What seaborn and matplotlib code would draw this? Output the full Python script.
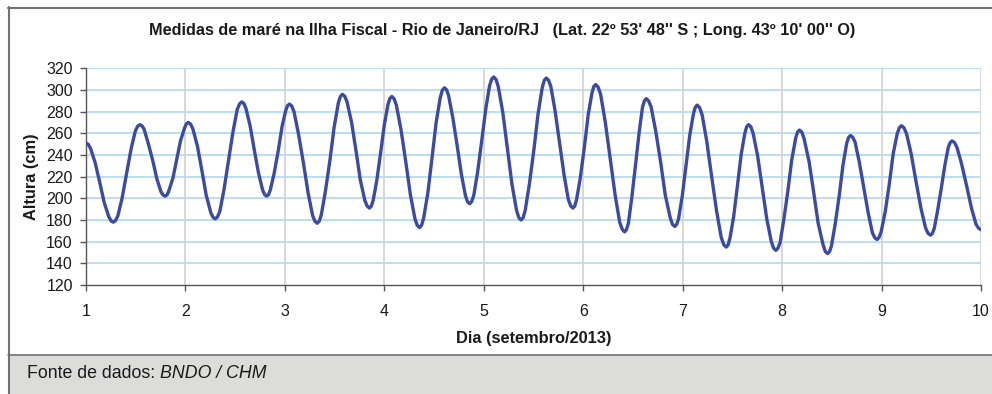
import matplotlib
matplotlib.use("Agg")
import matplotlib.pyplot as plt
from matplotlib.lines import Line2D
from matplotlib.patches import Rectangle
import pandas as pd
import seaborn as sns

# Tide gauge readings, Ilha Fiscal, 1-10 September 2013
# hours counted from 00:00 of day 1 (one row per half tidal cycle)
horas = [
    0.0,
    0.55, 1.1, 2.2, 3.3, 4.4, 5.5, 6.05, 6.6,
    7.13, 7.7, 8.7, 9.8, 10.9, 11.9, 12.47, 13.0,
    13.51, 14.0, 15.0, 16.1, 17.1, 18.1, 18.59, 19.1,
    19.57, 20.0, 21.0, 21.9, 22.8, 23.8, 24.23, 24.7,
    25.24, 25.8, 26.9, 28.0, 29.0, 30.1, 30.66, 31.2,
    31.73, 32.3, 33.3, 34.4, 35.5, 36.5, 37.07, 37.6,
    38.1, 38.6, 39.6, 40.6, 41.6, 42.6, 43.1, 43.6,
    44.06, 44.5, 45.4, 46.4, 47.3, 48.2, 48.64, 49.1,
    49.66, 50.2, 51.3, 52.5, 53.6, 54.7, 55.24, 55.8,
    56.31, 56.8, 57.8, 58.9, 59.9, 60.9, 61.39, 61.9,
    62.44, 63.0, 64.1, 65.2, 66.2, 67.3, 67.86, 68.4,
    68.85, 69.3, 70.2, 71.1, 72.0, 72.9, 73.35, 73.8,
    74.36, 74.9, 76.0, 77.2, 78.3, 79.4, 79.94, 80.5,
    81.0, 81.5, 82.5, 83.5, 84.5, 85.5, 86.0, 86.5,
    87.01, 87.5, 88.5, 89.6, 90.6, 91.6, 92.09, 92.6,
    93.08, 93.6, 94.5, 95.5, 96.5, 97.4, 97.92, 98.4,
    98.95, 99.5, 100.6, 101.7, 102.8, 103.9, 104.45, 105.0,
    105.51, 106.0, 107.0, 108.1, 109.1, 110.1, 110.59, 111.1,
    111.63, 112.2, 113.2, 114.3, 115.4, 116.4, 116.97, 117.5,
    117.96, 118.4, 119.3, 120.3, 121.2, 122.1, 122.54, 123.0,
    123.58, 124.2, 125.3, 126.5, 127.7, 128.8, 129.42, 130.0,
    130.43, 130.9, 131.7, 132.6, 133.5, 134.3, 134.77, 135.2,
    135.78, 136.4, 137.5, 138.7, 139.8, 141.0, 141.53, 142.1,
    142.55, 143.0, 143.9, 144.8, 145.7, 146.6, 147.05, 147.5,
    148.08, 148.7, 149.8, 151.0, 152.2, 153.3, 153.92, 154.5,
    154.95, 155.4, 156.3, 157.2, 158.1, 159.0, 159.45, 159.9,
    160.45, 161.0, 162.1, 163.2, 164.3, 165.4, 165.95, 166.5,
    166.98, 167.5, 168.4, 169.4, 170.3, 171.3, 171.73, 172.2,
    172.77, 173.3, 174.5, 175.6, 176.7, 177.9, 178.43, 179.0,
    179.46, 179.9, 180.8, 181.8, 182.7, 183.6, 184.04, 184.5,
    185.03, 185.6, 186.6, 187.7, 188.8, 189.8, 190.37, 190.9,
    191.39, 191.9, 192.9, 193.9, 194.8, 195.8, 196.31, 196.8,
    197.38, 198.0, 199.1, 200.3, 201.5, 202.6, 203.22, 203.8,
    204.23, 204.7, 205.5, 206.4, 207.3, 208.1, 208.57, 209.0,
    209.58, 210.2, 211.3, 212.5, 213.7, 214.8, 215.42, 216.0,
]

# sea level height (cm)
altura_cm = [
    251,
    249.8, 246, 233, 215, 196, 183, 179.2, 178,
    179.5, 184, 200, 223, 246, 262, 266.5, 268,
    266.9, 264, 251, 235, 218, 206, 203.1, 202,
    203.2, 207, 219, 236, 253, 265, 268.8, 270,
    268.5, 264, 248, 225, 203, 187, 182.5, 181,
    182.8, 188, 208, 235, 262, 282, 287.2, 289,
    287.5, 283, 267, 245, 224, 208, 203.5, 202,
    203.4, 208, 223, 244, 266, 281, 285.6, 287,
    285.1, 280, 259, 232, 205, 184, 178.9, 177,
    179.0, 185, 207, 236, 266, 288, 294.0, 296,
    294.2, 289, 270, 243, 217, 198, 192.8, 191,
    192.8, 198, 217, 242, 268, 287, 292.2, 294,
    291.9, 286, 264, 233, 203, 181, 175.1, 173,
    175.2, 182, 205, 237, 270, 293, 299.8, 302,
    300.2, 295, 275, 248, 222, 202, 196.8, 195,
    197.0, 203, 224, 253, 283, 304, 310.0, 312,
    309.8, 303, 279, 246, 213, 189, 182.2, 180,
    182.2, 189, 213, 245, 278, 302, 308.8, 311,
    309.0, 303, 281, 251, 221, 199, 193.0, 191,
    192.9, 199, 219, 248, 277, 297, 303.1, 305,
    302.7, 296, 271, 237, 203, 178, 171.3, 169,
    171.1, 177, 200, 230, 261, 284, 289.9, 292,
    290.0, 284, 262, 233, 203, 182, 176.0, 174,
    175.9, 181, 202, 230, 258, 278, 284.1, 286,
    283.8, 277, 253, 220, 188, 164, 157.2, 155,
    156.9, 163, 183, 211, 240, 260, 266.1, 268,
    266.0, 260, 239, 210, 181, 160, 154.0, 152,
    153.9, 159, 180, 207, 235, 256, 261.1, 263,
    261.1, 255, 234, 206, 177, 157, 150.9, 149,
    150.9, 156, 176, 203, 231, 251, 256.1, 258,
    256.4, 252, 234, 210, 186, 168, 163.6, 162,
    163.8, 169, 188, 214, 241, 260, 265.2, 267,
    265.3, 260, 242, 216, 191, 173, 167.7, 166,
    167.5, 172, 188, 209, 231, 247, 251.5, 253,
    251.6, 247, 232, 212, 191, 176, 172.4, 171,
]

dias = list(range(1, 11))
alturas_eixo = list(range(120, 321, 20))

titulo = ("Medidas de maré na Ilha Fiscal - Rio de Janeiro/RJ   "
          "(Lat. 22º 53' 48'' S ; Long. 43º 10' 00'' O)")
rotulo_x = "Dia (setembro/2013)"
rotulo_y = "Altura (cm)"
fonte_txt = "Fonte de dados: "
fonte_org = "BNDO / CHM"

df = pd.DataFrame({"hora": horas, "altura": altura_cm})
df["dia"] = 1 + df["hora"] / 24.0

sns.set_theme(style="white")
plt.rcParams["font.family"] = ["Liberation Sans", "DejaVu Sans"]

W, H = 992, 394
fig = plt.figure(figsize=(W / 100, H / 100), dpi=100)
fig.patch.set_facecolor("white")

ax = fig.add_axes([86 / W, 1 - 285 / H, (981 - 86) / W, (285 - 68.3) / H])
ax.set_facecolor("white")

sns.lineplot(data=df, x="dia", y="altura", ax=ax, color="#3c4ba0",
             linewidth=2.4, estimator=None, zorder=3,
             solid_joinstyle="round", solid_capstyle="round")

ax.set_xlim(1, 10)
ax.set_ylim(120, 320)
ax.set_xticks(dias)
ax.set_yticks(alturas_eixo)
ax.set_xticklabels([str(d) for d in dias], fontsize=11.5, color="#1a1a1a")
ax.set_yticklabels([str(v) for v in alturas_eixo], fontsize=11.5, color="#1a1a1a")

# light blue horizontal grid, light grey vertical grid
for v in alturas_eixo[1:]:
    ax.axhline(v, color="#b3dcf2", linewidth=1.3, zorder=1)
for d in dias[1:]:
    ax.axvline(d, color="#d4d4d4", linewidth=1.3, zorder=1)

for s in ("top", "right"):
    ax.spines[s].set_visible(False)
for s in ("left", "bottom"):
    ax.spines[s].set_color("#555555")
    ax.spines[s].set_linewidth(1.0)

ax.tick_params(axis="both", which="major", direction="out", length=4.5,
               width=1.0, color="#555555", left=True, bottom=True)
ax.tick_params(axis="y", pad=5)
ax.tick_params(axis="x", pad=9)

ax.set_xlabel(rotulo_x, fontsize=11.8, fontweight="bold", labelpad=9, color="#1a1a1a")
ax.set_ylabel(rotulo_y, fontsize=11.8, fontweight="bold", labelpad=5, color="#1a1a1a")

fig.text(502.5 / W, 1 - 30 / H, titulo, ha="center", va="center",
         fontsize=11.7, fontweight="bold", color="#1a1a1a")

# footer band and outer frame
fig.add_artist(Rectangle((8 / W, 0), 1 - 8 / W, (H - 355) / H,
                         transform=fig.transFigure, facecolor="#dcdddb",
                         edgecolor="none", zorder=0))
fig.add_artist(Line2D([8 / W, 1], [(H - 355) / H] * 2, transform=fig.transFigure,
                      color="#707070", linewidth=1.2))
fig.add_artist(Line2D([8.5 / W] * 2, [0, 1 - 7 / H], transform=fig.transFigure,
                      color="#707070", linewidth=1.5))
fig.add_artist(Line2D([8 / W, 1], [1 - 7.5 / H] * 2, transform=fig.transFigure,
                      color="#707070", linewidth=1.5))

t1 = fig.text(27 / W, (H - 373) / H, fonte_txt, ha="left", va="center",
              fontsize=12.8, color="#1a1a1a")
fig.canvas.draw()
bb = t1.get_window_extent(renderer=fig.canvas.get_renderer())
fig.text(bb.x1 / W, (H - 373) / H, fonte_org, ha="left", va="center",
         fontsize=12.8, fontstyle="italic", color="#1a1a1a")

fig.savefig("out.png", dpi=100)
